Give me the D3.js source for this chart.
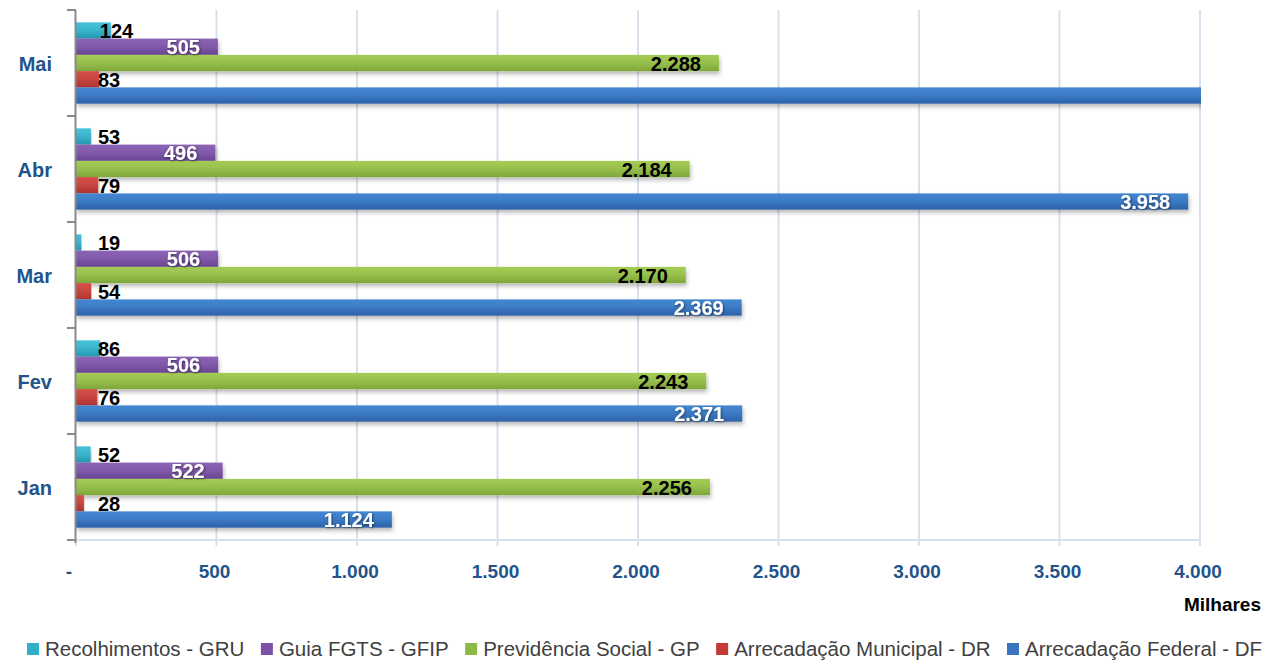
<!DOCTYPE html>
<html>
<head>
<meta charset="utf-8">
<script src="https://cdn.jsdelivr.net/npm/d3@7/dist/d3.min.js"></script>
<style>
  html, body { margin: 0; padding: 0; background: #ffffff; }
  svg { display: block; font-family: "Liberation Sans", Arial, sans-serif; }
</style>
</head>
<body>
<svg id="chart" width="1269" height="661"></svg>
<script>
// Monthly collection by document type (thousands)
const months = ["Jan", "Fev", "Mar", "Abr", "Mai"];
const seriesNames = [
  "Recolhimentos - GRU",
  "Guia FGTS - GFIP",
  "Previdência Social - GP",
  "Arrecadação Municipal - DR",
  "Arrecadação Federal - DF"
];
const gruValues  = [52, 86, 19, 53, 124];
const gfipValues = [522, 506, 506, 496, 505];
const gpValues   = [2256, 2243, 2170, 2184, 2288];
const drValues   = [28, 76, 54, 79, 83];
const dfValues   = [1124, 2371, 2369, 3958, 4350];
const xTicks = [0, 500, 1000, 1500, 2000, 2500, 3000, 3500, 4000];
const xMax = 4000;

const seriesValues = [gruValues, gfipValues, gpValues, drValues, dfValues];
const palette = [
  { top: "#45C3DB", bottom: "#2496B0" },
  { top: "#8C63B6", bottom: "#6A4592" },
  { top: "#A4CC55", bottom: "#7FA63A" },
  { top: "#D64E49", bottom: "#AF3330" },
  { top: "#4487D3", bottom: "#2D62A8" }
];
// label style per series: "base" = black just after the bar, "inner" = inside end
const labelMode = ["base", "inner", "inner", "base", "inner"];
const labelColor = ["#000", "#fff", "#000", "#000", "#fff"];
const legendSwatch = ["#31AFC9", "#7B52A6", "#8DBA45", "#C33A36", "#3A74BE"];

const svg = d3.select("#chart");
const margin = { left: 76, right: 69, top: 10, bottom: 121 };
const plotRight = 1269 - margin.right;
const plotBottom = 661 - margin.bottom;

const x = d3.scaleLinear().domain([0, xMax]).range([margin.left, plotRight]);
const y = d3.scaleBand()
  .domain(months.slice().reverse())
  .range([margin.top, plotBottom])
  .paddingInner(0.233)
  .paddingOuter(0.1165);
const ySub = d3.scaleBand().domain(d3.range(seriesNames.length)).range([0, y.bandwidth()]);

const defs = svg.append("defs");
palette.forEach((p, i) => {
  const g = defs.append("linearGradient").attr("id", "grad" + i)
    .attr("x1", 0).attr("y1", 0).attr("x2", 0).attr("y2", 1);
  g.append("stop").attr("offset", "0%").attr("stop-color", p.top);
  g.append("stop").attr("offset", "45%").attr("stop-color", d3.interpolateRgb(p.top, p.bottom)(0.3));
  g.append("stop").attr("offset", "100%").attr("stop-color", p.bottom);
});
const shadow = defs.append("filter").attr("id", "barShadow")
  .attr("x", "-5%").attr("y", "-60%").attr("width", "110%").attr("height", "220%");
shadow.append("feDropShadow").attr("dx", 1).attr("dy", 3).attr("stdDeviation", 2.2)
  .attr("flood-color", "#000").attr("flood-opacity", 0.28);
const textShadow = defs.append("filter").attr("id", "textShadow")
  .attr("x", "-20%").attr("y", "-20%").attr("width", "140%").attr("height", "160%");
textShadow.append("feDropShadow").attr("dx", 0.8).attr("dy", 0.8).attr("stdDeviation", 0.8)
  .attr("flood-color", "#000").attr("flood-opacity", 0.55);
defs.append("clipPath").attr("id", "plotClip")
  .append("rect").attr("x", margin.left).attr("y", 0)
  .attr("width", plotRight - margin.left + 1).attr("height", plotBottom + 10);

// vertical gridlines, with small ticks below the baseline
const grid = svg.append("g");
grid.selectAll("line.grid").data(xTicks.slice(1)).join("line")
  .attr("class", "grid")
  .attr("x1", d => x(d)).attr("x2", d => x(d))
  .attr("y1", margin.top).attr("y2", plotBottom + 6)
  .attr("stroke", "#D7E1EE").attr("stroke-width", 2);
grid.append("line")
  .attr("x1", margin.left).attr("x2", plotRight)
  .attr("y1", plotBottom).attr("y2", plotBottom)
  .attr("stroke", "#D7E1EE").attr("stroke-width", 2);
grid.append("line")
  .attr("x1", margin.left).attr("x2", margin.left)
  .attr("y1", plotBottom).attr("y2", plotBottom + 6)
  .attr("stroke", "#D7E1EE").attr("stroke-width", 2);

// bars
const rows = [];
months.forEach((m, mi) => {
  seriesValues.forEach((vals, si) => rows.push({ month: m, series: si, value: vals[mi] }));
});
const barTop = d => y(d.month) + ySub(d.series);
svg.append("g").attr("clip-path", "url(#plotClip)")
  .selectAll("rect").data(rows).join("rect")
  .attr("x", x(0))
  .attr("y", barTop)
  .attr("width", d => x(Math.min(d.value, xMax + 50)) - x(0))
  .attr("height", ySub.bandwidth())
  .attr("fill", d => `url(#grad${d.series})`)
  .attr("filter", "url(#barShadow)");

// left axis with category labels
const yAxis = svg.append("g");
yAxis.append("line")
  .attr("x1", margin.left - 0.5).attr("x2", margin.left - 0.5)
  .attr("y1", margin.top).attr("y2", plotBottom + 3)
  .attr("stroke", "#8A8A8A").attr("stroke-width", 2);
const boundaries = d3.range(months.length + 1).map(i => margin.top + i * y.step());
yAxis.selectAll("line.tick").data(boundaries).join("line")
  .attr("class", "tick")
  .attr("x1", margin.left - 9).attr("x2", margin.left)
  .attr("y1", d => d).attr("y2", d => d)
  .attr("stroke", "#8A8A8A").attr("stroke-width", 2);
yAxis.selectAll("text").data(months).join("text")
  .attr("x", 52)
  .attr("y", d => y(d) + y.bandwidth() / 2 + 7.5)
  .attr("text-anchor", "end")
  .attr("font-size", 20).attr("font-weight", "bold")
  .attr("fill", "#22538A")
  .text(d => d);

// x tick labels (pt-BR thousands separator, dash for zero)
const fmt = d3.formatLocale({ decimal: ",", thousands: ".", grouping: [3], currency: ["R$", ""] }).format(",d");
svg.append("g").selectAll("text").data(xTicks).join("text")
  .attr("x", d => x(d) - (d === 0 ? 7 : 2))
  .attr("y", 578)
  .attr("text-anchor", "middle")
  .attr("font-size", 19).attr("font-weight", "bold")
  .attr("fill", "#22538A")
  .text(d => d === 0 ? "-" : fmt(d));

svg.append("text")
  .attr("x", 1261).attr("y", 611)
  .attr("text-anchor", "end")
  .attr("font-size", 19).attr("font-weight", "bold")
  .attr("fill", "#000")
  .text("Milhares");

// value labels
svg.append("g").selectAll("text").data(rows.filter(d => d.value <= xMax)).join("text")
  .attr("x", d => labelMode[d.series] === "base"
    ? Math.max(x(0) + 22, x(d.value) - 11)
    : x(d.value) - 18)
  .attr("y", d => barTop(d) + ySub.bandwidth() - 0.5)
  .attr("text-anchor", d => labelMode[d.series] === "base" ? "start" : "end")
  .attr("font-size", 20).attr("font-weight", "bold")
  .attr("fill", d => labelColor[d.series])
  .attr("filter", d => labelColor[d.series] === "#fff" ? "url(#textShadow)" : null)
  .text(d => fmt(d.value));

// legend, spread across the chart width
const legendLeft = 27, legendRight = 1262;
const legend = svg.append("g");
const items = legend.selectAll("g").data(seriesNames).join("g");
items.append("rect")
  .attr("width", 12).attr("height", 12)
  .attr("y", 643)
  .attr("fill", (d, i) => legendSwatch[i]);
items.append("text")
  .attr("x", 18).attr("y", 656)
  .attr("font-size", 20.5)
  .attr("fill", "#404040")
  .text(d => d);
const widths = [];
items.each(function () {
  widths.push(d3.select(this).select("text").node().getComputedTextLength());
});
const used = d3.sum(widths, w => 18 + w);
const gap = Math.max(10, (legendRight - legendLeft - used) / (widths.length - 1));
let cursor = legendLeft;
items.attr("transform", (d, i) => {
  const tx = cursor;
  cursor += 18 + widths[i] + gap;
  return `translate(${tx},0)`;
});
</script>
</body>
</html>
